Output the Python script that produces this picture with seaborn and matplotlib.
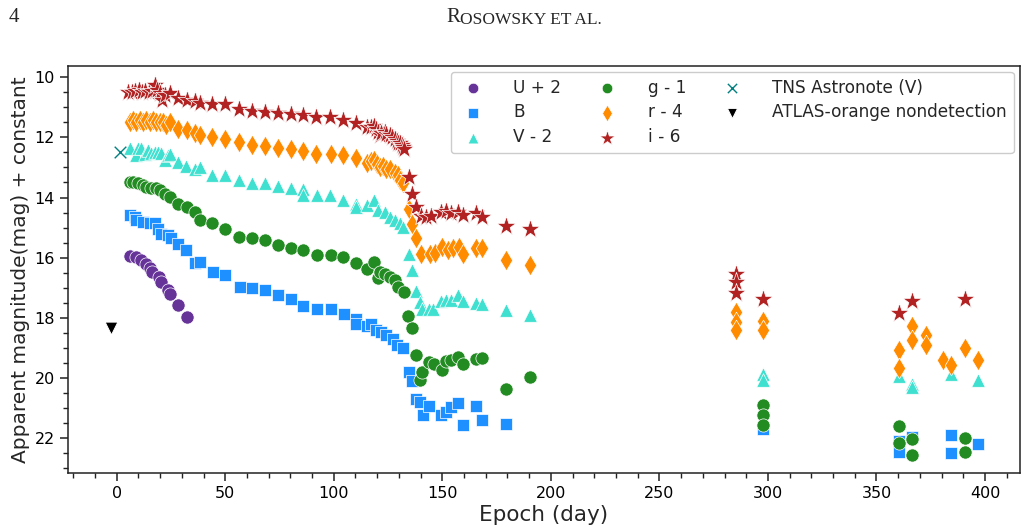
import matplotlib
matplotlib.use("Agg")
import matplotlib.pyplot as plt
from matplotlib.ticker import MultipleLocator
import seaborn as sns
import pandas as pd

# U + 2
u_day = [6.0, 8.8, 11.4, 13.7, 15.2, 16.4, 19.5, 20.6, 23.6, 24.4, 28.3, 32.4]
u_mag = [15.95, 15.97, 16.08, 16.22, 16.35, 16.47, 16.64, 16.80, 17.08, 17.20, 17.58, 17.97]

# B
b_day = [6.0, 8.3, 9.1, 12.1, 15.2, 17.5, 19.0, 20.6, 23.6, 25.2, 28.3, 32.1, 35.9, 38.2,
         44.4, 49.8, 56.7, 62.1, 68.2, 74.3, 80.5, 85.9, 92.3, 98.5, 104.6, 110.4, 110.4,
         115.3, 117.3, 119.6, 121.9, 124.2, 127.3, 128.9, 131.9, 134.7, 136.2, 137.8, 139.6,
         141.2, 143.9, 149.6, 151.9, 154.2, 157.3, 159.6, 165.7, 168.5, 179.5, 297.7, 360.5,
         360.5, 366.5, 384.3, 384.3, 396.6]
b_mag = [14.59, 14.64, 14.75, 14.81, 14.86, 14.86, 15.03, 15.20, 15.25, 15.36, 15.53, 15.75,
         16.19, 16.14, 16.49, 16.58, 16.97, 17.02, 17.08, 17.25, 17.36, 17.61, 17.72, 17.72,
         17.88, 18.02, 18.19, 18.28, 18.21, 18.41, 18.47, 18.58, 18.69, 18.91, 18.99, 19.80,
         20.09, 20.68, 20.79, 21.24, 20.94, 21.24, 21.13, 20.96, 20.83, 21.57, 20.94, 21.38,
         21.51, 21.68, 22.10, 22.45, 21.96, 21.90, 22.49, 22.18]

# V - 2
v_day = [6.0, 9.1, 9.8, 11.4, 12.9, 14.4, 16.0, 17.5, 19.0, 20.6, 22.1, 23.6, 24.4, 28.3,
         32.1, 35.9, 38.2, 44.1, 49.8, 56.4, 62.1, 68.2, 74.3, 80.5, 85.9, 85.9, 92.2, 98.4,
         104.3, 110.4, 110.4, 115.3, 118.4, 120.4, 123.5, 125.8, 128.1, 130.4, 131.9, 134.7,
         136.2, 138.1, 139.6, 140.8, 143.9, 145.8, 149.6, 151.9, 154.2, 157.3, 159.6, 165.7,
         168.5, 179.5, 190.6, 297.7, 297.7, 360.5, 366.5, 366.5, 384.3, 396.6]
v_mag = [12.34, 12.59, 12.37, 12.34, 12.54, 12.43, 12.52, 12.48, 12.48, 12.52, 12.76, 12.59,
         12.54, 12.81, 12.96, 13.04, 13.00, 13.26, 13.26, 13.42, 13.53, 13.53, 13.62, 13.68,
         13.73, 13.92, 13.92, 13.90, 14.09, 14.20, 14.33, 14.25, 14.09, 14.42, 14.48, 14.64,
         14.75, 14.86, 14.98, 15.86, 16.42, 17.11, 17.47, 17.69, 17.69, 17.72, 17.45, 17.41,
         17.39, 17.23, 17.44, 17.52, 17.55, 17.75, 17.91, 19.85, 20.05, 19.94, 20.21, 20.30,
         19.85, 20.05]

# g - 1
g_day = [6.0, 7.5, 9.8, 12.1, 13.7, 16.0, 18.3, 19.8, 22.1, 24.4, 28.3, 32.4, 35.9, 38.2,
         44.1, 49.8, 56.4, 62.1, 68.2, 74.3, 80.5, 85.9, 92.3, 98.5, 104.3, 110.4, 115.3,
         118.4, 120.4, 121.2, 123.5, 125.8, 128.1, 129.6, 132.3, 134.3, 136.2, 138.1, 139.6,
         140.8, 143.9, 146.1, 149.9, 151.9, 154.2, 157.3, 159.6, 165.7, 168.5, 179.5, 190.6,
         297.7, 297.7, 297.7, 360.5, 360.5, 366.5, 366.5, 390.8, 390.8]
g_mag = [13.48, 13.48, 13.53, 13.59, 13.65, 13.70, 13.70, 13.76, 13.87, 13.98, 14.20, 14.31,
         14.48, 14.75, 14.86, 15.03, 15.31, 15.36, 15.42, 15.58, 15.69, 15.75, 15.92, 15.92,
         15.97, 16.19, 16.36, 16.14, 16.69, 16.47, 16.53, 16.64, 16.75, 16.97, 17.14, 17.95,
         18.35, 19.24, 20.05, 19.80, 19.46, 19.52, 19.72, 19.43, 19.41, 19.30, 19.52, 19.35,
         19.32, 20.35, 19.96, 20.90, 21.21, 21.57, 21.60, 22.16, 22.01, 22.57, 21.98, 22.45]

# r - 4
r_day = [6.0, 7.5, 9.1, 10.6, 12.1, 13.7, 15.2, 16.7, 18.3, 19.8, 21.4, 22.9, 24.4, 28.3,
         32.4, 35.9, 38.2, 44.1, 49.8, 56.4, 62.1, 68.2, 74.3, 80.5, 85.9, 92.0, 98.5, 104.3,
         110.4, 115.3, 117.0, 118.4, 119.8, 121.2, 122.5, 124.2, 126.0, 128.1, 129.5, 130.4,
         131.9, 134.7, 136.2, 137.8, 140.4, 144.2, 146.5, 150.0, 152.6, 155.0, 157.6, 159.6,
         165.7, 168.5, 179.5, 190.6, 285.5, 285.5, 285.5, 297.7, 297.7, 360.5, 360.5, 366.5,
         366.5, 373.0, 373.0, 380.5, 384.3, 390.8, 396.6]
r_mag = [11.49, 11.43, 11.49, 11.43, 11.49, 11.43, 11.49, 11.43, 11.49, 11.49, 11.49, 11.60,
         11.49, 11.71, 11.76, 11.87, 11.93, 12.00, 12.04, 12.15, 12.26, 12.29, 12.34, 12.40,
         12.45, 12.54, 12.54, 12.59, 12.70, 12.85, 12.80, 12.74, 12.88, 12.98, 12.95, 13.04,
         13.05, 13.20, 13.25, 13.42, 13.53, 14.37, 14.89, 15.36, 15.86, 15.88, 15.84, 15.64,
         15.73, 15.69, 15.64, 15.86, 15.69, 15.69, 16.08, 16.25, 17.80, 18.13, 18.41, 18.10,
         18.41, 19.05, 19.65, 18.28, 18.72, 18.58, 18.91, 19.39, 19.58, 18.99, 19.39]

# i - 6
i_day = [5.4, 7.0, 8.5, 10.1, 11.7, 13.2, 14.7, 16.3, 17.8, 18.6, 20.1, 20.9, 22.4, 24.7,
         28.3, 32.4, 35.9, 38.2, 44.1, 49.8, 56.4, 62.1, 68.2, 74.3, 80.5, 85.9, 92.0, 98.2,
         104.3, 110.4, 115.3, 117.3, 118.4, 119.6, 120.4, 121.2, 121.9, 123.5, 124.2, 125.8,
         126.6, 128.1, 129.0, 129.6, 130.4, 131.2, 131.9, 132.5, 134.5, 136.2, 137.8, 140.4,
         142.7, 145.0, 149.6, 151.9, 154.2, 157.3, 159.6, 165.7, 168.5, 179.5, 190.6, 285.5,
         285.5, 285.5, 297.7, 360.5, 366.5, 390.8]
i_mag = [10.49, 10.49, 10.45, 10.43, 10.49, 10.45, 10.49, 10.45, 10.27, 10.43, 10.54, 10.76,
         10.60, 10.54, 10.71, 10.76, 10.79, 10.85, 10.88, 10.90, 11.07, 11.12, 11.15, 11.19,
         11.23, 11.26, 11.32, 11.32, 11.43, 11.52, 11.65, 11.65, 11.62, 11.72, 11.82, 11.93,
         11.85, 11.82, 11.90, 11.93, 11.98, 12.04, 12.12, 12.18, 12.20, 12.26, 12.32, 12.38,
         13.32, 13.89, 14.33, 14.62, 14.66, 14.60, 14.48, 14.44, 14.53, 14.48, 14.57, 14.50,
         14.66, 14.95, 15.03, 16.55, 16.80, 17.17, 17.36, 17.82, 17.43, 17.38]

tns_day = [1.5]
tns_mag = [12.48]
atlas_day = [-2.8]
atlas_mag = [18.35]

sns.set_theme(style="ticks")
plt.rcParams["font.family"] = ["DejaVu Sans"]

fig = plt.figure(figsize=(10.28, 5.32), dpi=100)
ax = fig.add_axes([0.066, 0.111, 0.926, 0.765])

bands = [
    ("U + 2", u_day, u_mag, "rebeccapurple", "o", 90),
    ("B", b_day, b_mag, "dodgerblue", "s", 80),
    ("V - 2", v_day, v_mag, "turquoise", "^", 95),
    ("g - 1", g_day, g_mag, "forestgreen", "o", 90),
    ("r - 4", r_day, r_mag, "darkorange", "d", 110),
    ("i - 6", i_day, i_mag, "firebrick", "*", 210),
]
for label, d, m, col, mk, sz in bands:
    df = pd.DataFrame({"day": d, "mag": m})
    sns.scatterplot(data=df, x="day", y="mag", color=col, marker=mk, s=sz,
                    linewidth=0.5, edgecolor="white", label=label, ax=ax, zorder=3)

sns.scatterplot(x=tns_day, y=tns_mag, color="teal", marker="x", s=70, linewidth=1,
                label="TNS Astronote (V)", ax=ax, zorder=3)
sns.scatterplot(x=atlas_day, y=atlas_mag, color="black", marker="v", s=85,
                label="ATLAS-orange nondetection", ax=ax, zorder=3)

ax.set_xlim(-22.5, 416)
ax.set_ylim(23.15, 9.63)
ax.xaxis.set_major_locator(MultipleLocator(50))
ax.xaxis.set_minor_locator(MultipleLocator(10))
ax.yaxis.set_major_locator(MultipleLocator(2))
ax.yaxis.set_minor_locator(MultipleLocator(0.5))
ax.tick_params(which="major", length=6, width=1.1, labelsize=11.5, direction="out",
               colors="#222222", labelcolor="black")
ax.tick_params(which="minor", length=3.5, width=1.0, direction="out", colors="#222222")
for sp in ax.spines.values():
    sp.set_linewidth(1.1)
    sp.set_color("#222222")

ax.set_xlabel("Epoch (day)", fontsize=15.5, labelpad=3)
ax.set_ylabel("Apparent magnitude(mag) + constant", fontsize=14.5, labelpad=3)

ax.legend(ncol=3, loc="upper right", fontsize=12.2, markerscale=0.8,
          frameon=True, edgecolor="#cccccc", framealpha=1, borderaxespad=0.35,
          handlelength=1.8, handletextpad=1.5, columnspacing=1.8, labelspacing=0.4)

fig.text(0.008, 0.985, "4", fontsize=15, family="Liberation Serif", va="top")
fig.text(0.4345, 0.985, "R", fontsize=15, family="Liberation Serif", va="top")
fig.text(0.4475, 0.978, "OSOWSKY ET AL.", fontsize=12.5, family="Liberation Serif", va="top")

fig.savefig("out.png", dpi=100)
